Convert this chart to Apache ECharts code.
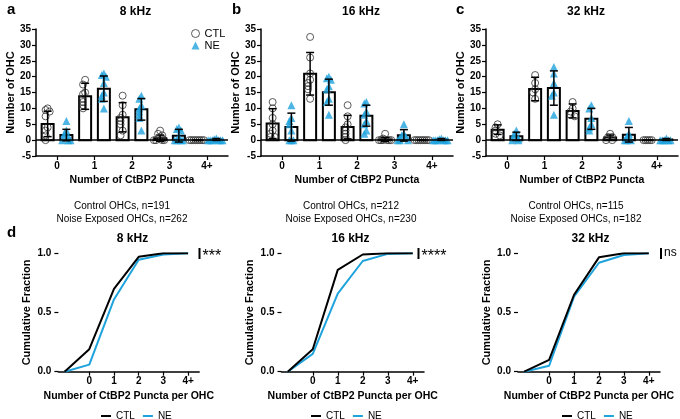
<!DOCTYPE html>
<html><head><meta charset="utf-8">
<script src="https://cdn.jsdelivr.net/npm/echarts@6/dist/echarts.min.js"></script>
<style>html,body{margin:0;padding:0;background:#fff}#c{width:680px;height:419px}</style>
</head><body><div id="c"></div>
<script>
const cats = ['0', '1', '2', '3', '4+'];
const panelTitles = ['8 kHz', '16 kHz', '32 kHz'];
const nCtl = ['Control OHCs, n=191', 'Control OHCs, n=212', 'Control OHCs, n=115'];
const nNe = ['Noise Exposed OHCs, n=262', 'Noise Exposed OHCs, n=230', 'Noise Exposed OHCs, n=182'];
const sigLabels = ['***', '****', 'ns'];

// 8 kHz
const ctlMean8 = [5.1, 13.8, 7.2, 0.6, 0.0];
const ctlSd8 = [4.0, 4.1, 4.6, 1.0, 0.1];
const neMean8 = [1.6, 16.2, 9.7, 1.4, 0.2];
const neSd8 = [1.8, 4.0, 3.4, 2.0, 0.3];
const ctlPts8 = [[10, 9.5, 9, 7.5, 4, 3, 1.5, 0], [19, 17.5, 15, 14.5, 13, 12, 11, 10], [14, 11, 8, 7, 6, 5, 3, 1.5], [3, 2, 1.5, 0.5, 0, 0, 0, 0], [0, 0, 0, 0, 0, 0, 0, 0]];
const nePts8 = [[6, 3, 2, 1, 1, 0, 0, 0], [21, 20.5, 20, 18, 15, 14, 13, 10], [14, 13, 11, 10, 9, 8, 7, 3], [4, 3.5, 3, 1, 0, 0, 0, 0], [0.5, 0.3, 0, 0, 0, 0, 0, 0]];

// 16 kHz
const ctlMean16 = [5.2, 20.9, 4.1, 0.2, 0.0];
const ctlSd16 = [4.7, 6.7, 3.7, 0.6, 0.1];
const neMean16 = [4.1, 15.1, 7.7, 1.5, 0.2];
const neSd16 = [4.4, 4.1, 3.3, 1.8, 0.3];
const ctlPts16 = [[12, 10, 7, 5, 3, 2, 1, 1], [32.5, 26, 21, 19, 18, 17, 16, 13], [11, 7.5, 5, 4, 3, 2, 1, 0], [2, 0.5, 0, 0, 0, 0, 0, 0], [0, 0, 0, 0, 0, 0, 0, 0]];
const nePts16 = [[11, 7, 6, 5, 3, 0, 0, 0], [20, 19.5, 19, 17, 16, 13, 12, 8], [12, 11.5, 9, 8, 6, 5, 3, 2], [5, 2, 1.5, 1, 0.5, 0, 0, 0], [0.5, 0.3, 0, 0, 0, 0, 0, 0]];

// 32 kHz
const ctlMean32 = [3.3, 16.1, 9.2, 0.8, 0.0];
const ctlSd32 = [1.5, 3.7, 2.2, 0.8, 0.0];
const neMean32 = [1.2, 16.4, 6.7, 1.7, 0.2];
const neSd32 = [1.3, 5.4, 3.3, 2.3, 0.3];
const ctlPts32 = [[5, 4, 3, 2, 1.5], [20.5, 18, 16, 15, 13], [12, 10, 9, 8, 7.5], [2, 1, 1, 0, 0], [0, 0, 0, 0, 0]];
const nePts32 = [[3, 2, 1, 0.5, 0, 0], [23, 21, 18, 15, 14, 8], [11, 10, 7, 5, 4, 3], [6, 2, 1, 0, 0, 0], [0.5, 0, 0, 0, 0, 0]];

// cumulative fractions
const cdfX = [-1, 0, 1, 2, 3, 4];
const cdfCtl8 = [0, 0.19, 0.70, 0.97, 1.0, 1.0];
const cdfNe8 = [0, 0.06, 0.61, 0.945, 0.99, 1.0];
const cdfCtl16 = [0, 0.19, 0.86, 0.99, 1.0, 1.0];
const cdfNe16 = [0, 0.15, 0.66, 0.935, 0.995, 1.0];
const cdfCtl32 = [0, 0.10, 0.65, 0.966, 1.0, 1.0];
const cdfNe32 = [0, 0.05, 0.634, 0.92, 0.986, 1.0];

const BLUE = '#1fa3dd';
const FONT = 'Liberation Sans, Arial, sans-serif';

const topData = [
  [ctlMean8, ctlSd8, neMean8, neSd8, ctlPts8, nePts8],
  [ctlMean16, ctlSd16, neMean16, neSd16, ctlPts16, nePts16],
  [ctlMean32, ctlSd32, neMean32, neSd32, ctlPts32, nePts32]
];
const botData = [[cdfCtl8, cdfNe8], [cdfCtl16, cdfNe16], [cdfCtl32, cdfNe32]];

function spread(vals) {
  const pattern = [0, -1, 1, -2, 2, -3, 3, -4, 4];
  return vals.map((v, i) => {
    let k = 0;
    for (let j = 0; j < i; j++) if (Math.abs(vals[j] - v) < 1.6) k++;
    return pattern[k % 9] * 0.055;
  });
}

const grid = [], xAxis = [], yAxis = [], series = [], title = [], legend = [], graphic = [];
const axisCommon = {
  axisLine: { show: true, onZero: false, lineStyle: { color: '#000', width: 1.5 } },
  axisTick: { show: true, length: 4, lineStyle: { color: '#000', width: 1.2 } },
  splitLine: { show: false },
};
const boldLabel = { color: '#000', fontWeight: 'bold', fontSize: 10, fontFamily: FONT };

// top panels
const topLeft = [36, 261, 486];
const titleX = [130.5, 356, 581];
const letterX = [2, 227, 451];
const letters = ['a', 'b', 'c'];
const nTextX = [117, 346, 571];
topData.forEach((d, k) => {
  const [cm, cs, nm, ns, cp, np] = d;
  const gi = grid.length;
  grid.push({ left: topLeft[k], top: 29, width: 192, height: 127 });
  xAxis.push(Object.assign({}, axisCommon, {
    gridIndex: gi, type: 'value', min: -0.56, max: 4.56,
    axisTick: { show: true, length: 4, customValues: [0, 1, 2, 3, 4], lineStyle: { color: '#000', width: 1.2 } },
    axisLabel: Object.assign({ customValues: [0, 1, 2, 3, 4], formatter: v => cats[Math.round(v)], margin: 5 }, boldLabel),
    name: 'Number of CtBP2 Puncta', nameLocation: 'middle', nameGap: 19,
    nameTextStyle: { color: '#000', fontWeight: 'bold', fontSize: 10.5, fontFamily: FONT }
  }));
  yAxis.push(Object.assign({}, axisCommon, {
    gridIndex: gi, type: 'value', min: -5, max: 35, interval: 5,
    axisLabel: Object.assign({ margin: 5 }, boldLabel),
    name: 'Number of OHC', nameLocation: 'middle', nameGap: 19,
    nameTextStyle: { color: '#000', fontWeight: 'bold', fontSize: 11, fontFamily: FONT }
  }));
  const barData = [];
  cats.forEach((c, i) => { barData.push([i - 0.25, cm[i], cs[i]]); barData.push([i + 0.25, nm[i], ns[i]]); });
  series.push({
    type: 'custom', name: 'bars', xAxisIndex: gi, yAxisIndex: gi, z: 2, data: barData,
    encode: { x: 0, y: 1 },
    renderItem: (params, api) => {
      const x = api.value(0), m = api.value(1);
      const p = api.coord([x, m]), b = api.coord([x, 0]);
      return { type: 'rect', shape: { x: p[0] - 6, y: Math.min(p[1], b[1]), width: 12, height: Math.abs(b[1] - p[1]) },
        style: { fill: '#fff', stroke: '#000', lineWidth: 2 } };
    },
    markLine: { silent: true, symbol: 'none', label: { show: false }, lineStyle: { color: '#000', width: 1.5, type: 'solid' }, data: [{ yAxis: 0 }] }
  });
  const ctlScatter = [], neScatter = [];
  cp.forEach((vals, i) => { const off = spread(vals); vals.forEach((v, j) => ctlScatter.push([i - 0.25 + off[j], v])); });
  np.forEach((vals, i) => { const off = spread(vals); vals.forEach((v, j) => neScatter.push([i + 0.25 + off[j], v])); });
  series.push({ type: 'scatter', name: 'CTL', xAxisIndex: gi, yAxisIndex: gi, z: 3, data: ctlScatter, symbol: 'circle', symbolSize: 7,
    itemStyle: { color: 'rgba(255,255,255,0)', borderColor: '#333', borderWidth: 1 } });
  series.push({ type: 'scatter', name: 'NE', xAxisIndex: gi, yAxisIndex: gi, z: 3, data: neScatter, symbol: 'triangle', symbolSize: 8,
    itemStyle: { color: BLUE } });
  series.push({
    type: 'custom', name: 'err', xAxisIndex: gi, yAxisIndex: gi, z: 4, data: barData,
    encode: { x: 0, y: 1 },
    renderItem: (params, api) => {
      const x = api.value(0), m = api.value(1), s = api.value(2);
      const t = api.coord([x, m + s]), b = api.coord([x, m - s]);
      const st = { stroke: '#000', lineWidth: 1.5 };
      return { type: 'group', children: [
        { type: 'line', shape: { x1: t[0], y1: t[1], x2: b[0], y2: b[1] }, style: st },
        { type: 'line', shape: { x1: t[0] - 4, y1: t[1], x2: t[0] + 4, y2: t[1] }, style: st },
        { type: 'line', shape: { x1: b[0] - 4, y1: b[1], x2: b[0] + 4, y2: b[1] }, style: st }
      ] };
    }
  });
  title.push({ text: panelTitles[k], left: titleX[k], top: 1, textAlign: 'center',
    textStyle: { fontSize: 12, fontWeight: 'bold', color: '#000', fontFamily: FONT } });
  title.push({ text: letters[k], left: letterX[k], top: -3,
    textStyle: { fontSize: 15, fontWeight: 'bold', color: '#000', fontFamily: FONT } });
  title.push({ text: nCtl[k], left: nTextX[k], top: 196, textAlign: 'center',
    textStyle: { fontSize: 10, fontWeight: 'normal', color: '#000', fontFamily: FONT } });
  title.push({ text: nNe[k], left: nTextX[k], top: 209, textAlign: 'center',
    textStyle: { fontSize: 10, fontWeight: 'normal', color: '#000', fontFamily: FONT } });
});

legend.push({ left: 186, top: 23, orient: 'vertical', itemGap: 1, itemWidth: 8, itemHeight: 8,
  textStyle: { fontSize: 11, color: '#000', fontFamily: FONT },
  data: [
    { name: 'CTL', icon: 'circle', itemStyle: { color: 'rgba(255,255,255,0)', borderColor: '#333', borderWidth: 1 } },
    { name: 'NE', icon: 'triangle', itemStyle: { color: BLUE } }
  ] });

// bottom panels
const botLeft = [58.4, 281.5, 518];
const botWidth = [140.8, 142.5, 142];
const botTitleX = [127.5, 345.5, 585.5];
const legLeft = [96, 306, 557];
const sigX = [199.5, 418.5, 661];
botData.forEach((d, k) => {
  const [c, n] = d;
  const gi = grid.length;
  grid.push({ left: botLeft[k], top: 253.3, width: botWidth[k], height: 118.4 });
  xAxis.push(Object.assign({}, axisCommon, {
    gridIndex: gi, type: 'value', min: -1.25, max: 4.45,
    axisTick: { show: true, length: 4, customValues: [0, 1, 2, 3, 4], lineStyle: { color: '#000', width: 1.2 } },
    axisLabel: Object.assign({ customValues: [0, 1, 2, 3, 4], formatter: v => cats[Math.round(v)], margin: 5 }, boldLabel),
    name: 'Number of CtBP2 Puncta per OHC', nameLocation: 'middle', nameGap: 19,
    nameTextStyle: { color: '#000', fontWeight: 'bold', fontSize: 10.5, fontFamily: FONT }
  }));
  yAxis.push(Object.assign({}, axisCommon, {
    gridIndex: gi, type: 'value', min: 0, max: 1, interval: 0.5,
    axisLine: { show: false, onZero: false },
    axisLabel: Object.assign({ margin: 7, formatter: v => v.toFixed(1) }, boldLabel),
    name: 'Cumulative Fraction', nameLocation: 'middle', nameGap: 26,
    nameTextStyle: { color: '#000', fontWeight: 'bold', fontSize: 11, fontFamily: FONT }
  }));
  series.push({ type: 'line', name: 'CTL_d', xAxisIndex: gi, yAxisIndex: gi, z: 4, symbol: 'none', color: '#000',
    lineStyle: { color: '#000', width: 2 }, data: cdfX.map((x, i) => [x, c[i]]) });
  series.push({ type: 'line', name: 'NE_d', xAxisIndex: gi, yAxisIndex: gi, z: 3, symbol: 'none', color: BLUE,
    lineStyle: { color: BLUE, width: 2 }, data: cdfX.map((x, i) => [x, n[i]]) });
  title.push({ text: panelTitles[k], left: botTitleX[k], top: 228, textAlign: 'center',
    textStyle: { fontSize: 12, fontWeight: 'bold', color: '#000', fontFamily: FONT } });
  legend.push({ left: legLeft[k], top: 406, icon: 'rect', itemWidth: 10, itemHeight: 2, itemGap: 8,
    data: ['CTL_d', 'NE_d'], formatter: nm => nm.split('_')[0],
    textStyle: { fontSize: 10, color: '#000', fontFamily: FONT } });
  graphic.push({ type: 'rect', left: sigX[k] - 1, top: 248, shape: { width: 2, height: 11 }, style: { fill: '#000' } });
  if (k < 2) {
    graphic.push({ type: 'text', left: sigX[k] + 3, top: 249,
      style: { text: sigLabels[k], fontSize: 16, fontFamily: FONT, fill: '#000' } });
  } else {
    graphic.push({ type: 'text', left: sigX[k] + 3, top: 247,
      style: { text: sigLabels[k], fontSize: 12, fontFamily: FONT, fill: '#000' } });
  }
});
title.push({ text: 'd', left: 2, top: 220, textStyle: { fontSize: 15, fontWeight: 'bold', color: '#000', fontFamily: FONT } });

const chart = echarts.init(document.getElementById('c'), null, { renderer: 'canvas' });
chart.setOption({
  animation: false,
  backgroundColor: '#fff',
  textStyle: { fontFamily: FONT },
  grid, xAxis, yAxis, series, title, legend, graphic
});
</script>
</body></html>
